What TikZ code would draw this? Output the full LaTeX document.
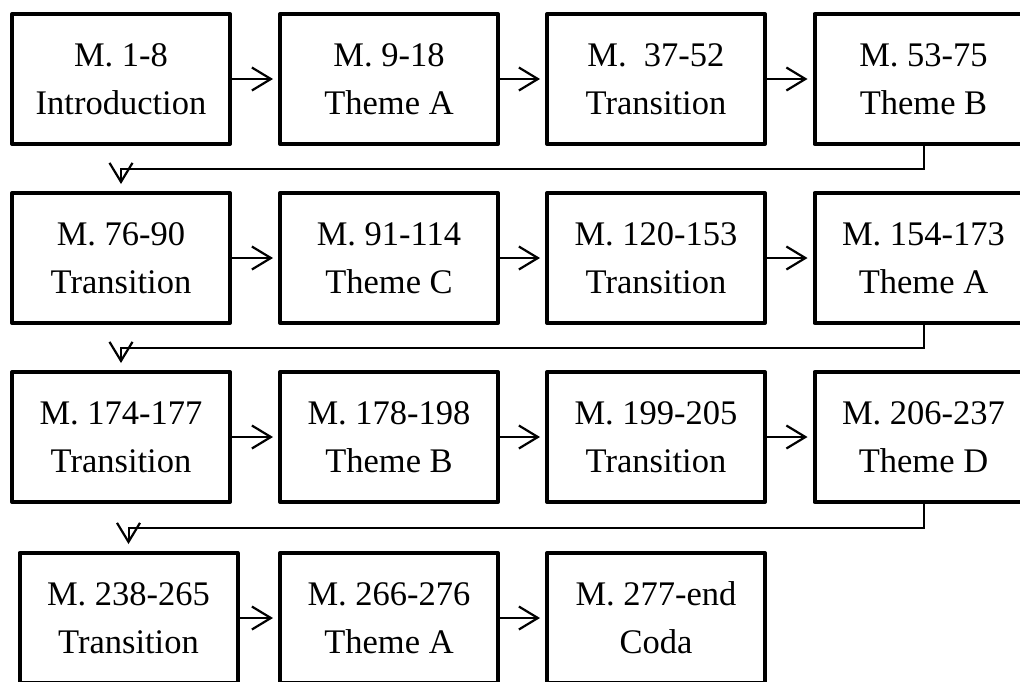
\documentclass[tikz,border=0pt]{standalone}
\usepackage{fontspec}
\setmainfont{Liberation Serif}
\usetikzlibrary{arrows.meta,calc}
\begin{document}
\begin{tikzpicture}[x=1pt,y=-1pt,
  box/.style={draw=black,line width=4pt,line join=round,minimum width=218pt,minimum height=130pt,
    inner sep=0pt,align=center,font=\fontsize{34.5}{48}\selectfont},
  arr/.style={line width=2pt,-{Straight Barb[length=19pt,width=23pt,line width=2.2pt]}},
  harr/.style={arr,shorten >=5pt},
  varr/.style={arr,shorten >=7pt}]
\useasboundingbox (0,0) rectangle (1020,681);
% row 1
\node[box] (b1) at (121,79) {M. 1-8\\Introduction};
\node[box] (b2) at (389,79) {M. 9-18\\Theme A};
\node[box] (b3) at (656,79) {M.~\ 37-52\\Transition};
\node[box] (b4) at (923.5,79) {M. 53-75\\Theme B};
% row 2
\node[box] (b5) at (121,258) {M. 76-90\\Transition};
\node[box] (b6) at (389,258) {M. 91-114\\Theme C};
\node[box] (b7) at (656,258) {M. 120-153\\Transition};
\node[box] (b8) at (923.5,258) {M. 154-173\\Theme A};
% row 3
\node[box] (b9) at (121,437) {M. 174-177\\Transition};
\node[box] (b10) at (389,437) {M. 178-198\\Theme B};
\node[box] (b11) at (656,437) {M. 199-205\\Transition};
\node[box] (b12) at (923.5,437) {M. 206-237\\Theme D};
% row 4
\node[box] (b13) at (128.5,618) {M. 238-265\\Transition};
\node[box] (b14) at (389,618) {M. 266-276\\Theme A};
\node[box] (b15) at (656,618) {M. 277-end\\Coda};
% horizontal arrows
\draw[harr] (b1) -- (b2);
\draw[harr] (b2) -- (b3);
\draw[harr] (b3) -- (b4);
\draw[harr] (b5) -- (b6);
\draw[harr] (b6) -- (b7);
\draw[harr] (b7) -- (b8);
\draw[harr] (b9) -- (b10);
\draw[harr] (b10) -- (b11);
\draw[harr] (b11) -- (b12);
\draw[harr] (b13) -- (b14);
\draw[harr] (b14) -- (b15);
% row links
\draw[varr] (b4.south) |- ($(b4.south)!.5!(b5.north)$) -| (b5.north);
\draw[varr] (b8.south) |- ($(b8.south)!.5!(b9.north)$) -| (b9.north);
\draw[varr] (b12.south) |- ($(b12.south)!.5!(b13.north)$) -| (b13.north);
\end{tikzpicture}
\end{document}
